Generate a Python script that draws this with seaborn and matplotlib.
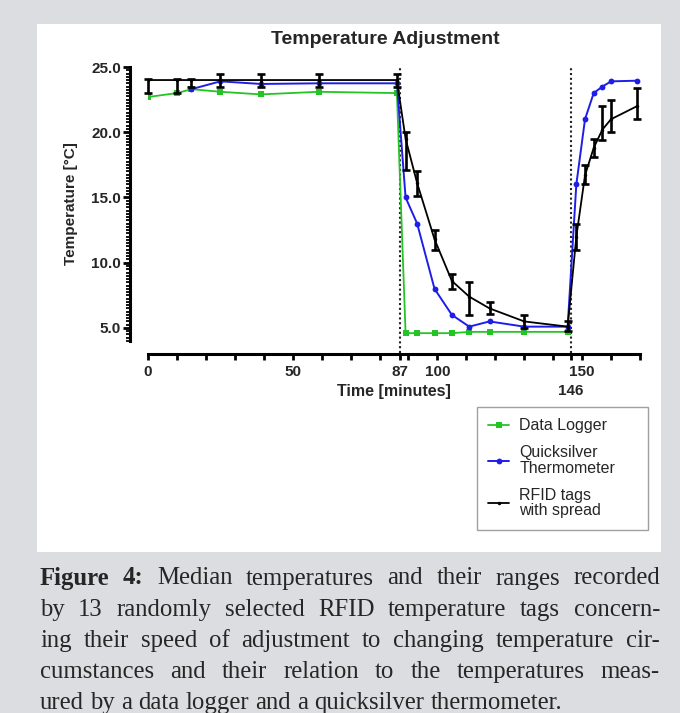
import matplotlib
matplotlib.use("Agg")
import numpy as np
import seaborn as sns
import matplotlib.pyplot as plt
from matplotlib.patches import Rectangle
from matplotlib.ticker import MultipleLocator
from matplotlib.transforms import blended_transform_factory

# --- data ---
logger_time = [0, 10, 15, 25, 39, 59, 86, 89, 93, 99, 105, 111, 118, 130, 145]
logger_temp = [22.7, 23.0, 23.3, 23.1, 22.9, 23.1, 23.0, 4.6, 4.6, 4.6, 4.6, 4.7, 4.7, 4.7, 4.7]

thermo_time = [15, 25, 39, 59, 86, 89, 93, 99, 105, 111, 118, 130, 145, 148, 151, 154, 157, 160, 169]
thermo_temp = [23.3, 23.9, 23.7, 23.75, 23.75, 15.0, 13.0, 8.0, 6.0, 5.1, 5.5, 5.1, 5.1,
               16.0, 21.0, 23.0, 23.5, 23.9, 23.95]

rfid_time = [0, 10, 15, 25, 39, 59, 86, 89, 93, 99, 105, 111, 118, 130, 145,
             148, 151, 154, 157, 160, 169]
rfid_median = [24.0, 24.0, 24.0, 24.0, 24.0, 24.0, 24.0, 19.5, 16.1, 11.8, 8.6, 7.4, 6.5, 5.5, 5.1,
               12.0, 16.7, 18.8, 20.2, 21.0, 22.0]
rfid_low = [23.0, 23.0, 23.5, 23.5, 23.5, 23.5, 23.5, 17.1, 15.1, 11.0, 8.0, 6.0, 6.1, 5.0, 4.8,
            11.0, 16.0, 18.1, 19.4, 20.0, 21.0]
rfid_high = [24.1, 24.1, 24.1, 24.5, 24.5, 24.5, 24.5, 20.0, 17.0, 12.5, 9.1, 8.5, 7.0, 6.0, 5.5,
             13.0, 17.5, 19.5, 22.0, 22.5, 23.4]

switch_times = [87, 146]
x_label_map = {0: "0", 50: "50", 87: "87", 100: "100", 150: "150"}
second_row_label = 146
y_ticks = [5, 10, 15, 20, 25]

caption_lines = [
    [("Figure", True), ("4:", True), ("Median", False), ("temperatures", False), ("and", False),
     ("their", False), ("ranges", False), ("recorded", False)],
    [(w, False) for w in "by 13 randomly selected RFID temperature tags concern-".split()],
    [(w, False) for w in "ing their speed of adjustment to changing temperature cir-".split()],
    [(w, False) for w in "cumstances and their relation to the temperatures meas-".split()],
    [(w, False) for w in "ured by a data logger and a quicksilver thermometer.".split()],
]

W, H = 680, 713

sns.set_style("ticks")
plt.rcParams['font.family'] = ['Liberation Sans', 'DejaVu Sans']
plt.rcParams['font.weight'] = 'bold'

fig = plt.figure(figsize=(W / 100, H / 100), dpi=100, facecolor='#dcdde0')
fig.add_artist(Rectangle((37 / W, 1 - 552 / H), 624 / W, 528 / H, transform=fig.transFigure,
                         facecolor='white', edgecolor='none', zorder=-5))

ax = fig.add_axes([148 / W, 1 - 341 / H, 492 / W, 274 / H])
ax.set_facecolor('none')

green, blue = '#25c425', '#1e1ee8'
sns.lineplot(x=logger_time, y=logger_temp, color=green, marker='s', markersize=4.2,
             markeredgewidth=0, linewidth=1.3, label='Data Logger', ax=ax, zorder=2)
sns.lineplot(x=thermo_time, y=thermo_temp, color=blue, marker='o', markersize=4.2,
             markeredgewidth=0, linewidth=1.4, label='Quicksilver\nThermometer', ax=ax, zorder=3)
sns.lineplot(x=rfid_time, y=rfid_median, color='black', marker='o', markersize=2.5,
             markeredgewidth=0, linewidth=1.3, label='RFID tags\nwith spread', ax=ax, zorder=4)

med = np.array(rfid_median)
yerr = [med - np.array(rfid_low), np.array(rfid_high) - med]
ax.errorbar(rfid_time, med, yerr=yerr, fmt='none', ecolor='black', elinewidth=1.9,
            capsize=2.8, capthick=1.9, zorder=5, clip_on=False)

for t in switch_times:
    ax.axvline(t, ymin=-0.045, ymax=1.0, color='#222222', ls=(0, (1, 1.3)), lw=1.5,
               clip_on=False, zorder=1)

ax.set_xlim(0, 170)
ax.set_ylim(4.0, 25.0)

xt = sorted(list(range(0, 171, 10)) + switch_times)
ax.set_xticks(xt)
ax.set_xticklabels([x_label_map.get(t, "") for t in xt], fontweight='bold')
ax.set_yticks(y_ticks)
ax.set_yticklabels([f"{v:.1f}" for v in y_ticks], fontweight='bold')
ax.yaxis.set_minor_locator(MultipleLocator(0.25))

ax.tick_params(axis='x', which='major', length=4, width=2, labelsize=11, pad=4.5, color='black')
ax.tick_params(axis='y', which='major', length=5, width=2, labelsize=11, pad=1.5, color='black')
ax.tick_params(axis='y', which='minor', length=3, width=1.3, color='black')

# 146 sits on a second row, under the 150 label
ax.text(second_row_label, -0.157, str(second_row_label),
        transform=blended_transform_factory(ax.transData, ax.transAxes),
        ha='center', va='top', fontsize=11, fontweight='bold')

sns.despine(ax=ax, offset={'left': 13, 'bottom': 9})
for side in ['left', 'bottom']:
    ax.spines[side].set_linewidth(2.2)
    ax.spines[side].set_color('black')

ax.set_xlabel('Time [minutes]', fontsize=11.5, fontweight='bold')
ax.xaxis.set_label_coords(0.5, -0.157)
ax.set_ylabel('Temperature [°C]', fontsize=11, fontweight='bold')
ax.yaxis.set_label_coords(-0.142, 0.5)

fig.text(385 / W, 1 - 40 / H, 'Temperature Adjustment', ha='center', va='center',
         fontsize=14, fontweight='bold')

handles, labels = ax.get_legend_handles_labels()
ax.get_legend().remove()
leg = fig.legend(handles, labels, loc='upper left',
                 bbox_to_anchor=(477 / W, 1 - 530 / H, 171 / W, 123 / H), mode='expand',
                 prop={'size': 11.5, 'weight': 'normal'}, frameon=True, fancybox=False,
                 edgecolor='#888888', handlelength=1.3, handletextpad=0.65, labelspacing=0.75,
                 borderpad=0.7, borderaxespad=0)
leg.get_frame().set_linewidth(1.0)
for t in leg.get_texts():
    t.set_linespacing(1.05)
    t.set_fontweight('normal')

# justified caption
renderer = fig.canvas.get_renderer()
x0, x1 = 40, 660
baselines = [584.5, 615.7, 646.9, 678.1, 709.3]
cap_size = 17.8
cap_kw = dict(family=['Liberation Serif', 'DejaVu Serif'], fontsize=cap_size, color='#262626',
              va='baseline', ha='left')
for i, (words, yb) in enumerate(zip(caption_lines, baselines)):
    texts = [fig.text(0, 1 - yb / H, w, fontweight='bold' if b else 'normal',
                      transform=fig.transFigure, **cap_kw) for w, b in words]
    widths = [t.get_window_extent(renderer).width for t in texts]
    if i < len(caption_lines) - 1:
        gap = (x1 - x0 - sum(widths)) / (len(texts) - 1)
    else:
        gap = cap_size * 0.25 * 100 / 72
    x = x0
    for t, w in zip(texts, widths):
        t.set_x(x / W)
        x += w + gap

fig.savefig('out.png', dpi=100, facecolor=fig.get_facecolor())
